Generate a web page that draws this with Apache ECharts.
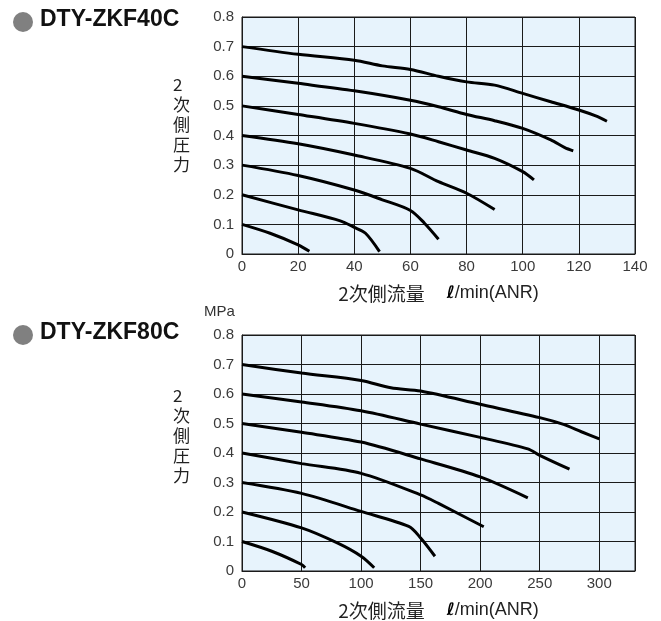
<!DOCTYPE html>
<html><head><meta charset="utf-8">
<script src="https://cdn.jsdelivr.net/npm/echarts@6/dist/echarts.min.js"></script>
<style>html,body{margin:0;padding:0;background:#fff}#c{width:661px;height:621px}</style>
</head><body><div id="c"></div>
<script>
// Top chart: DTY-ZKF40C  (flow l/min, pressure MPa)
const titleTop = 'DTY-ZKF40C';
const titleBottom = 'DTY-ZKF80C';
const xTicksTop = [0, 20, 40, 60, 80, 100, 120, 140];
const xTicksBottom = [0, 50, 100, 150, 200, 250, 300];
const yTicks = [0, 0.1, 0.2, 0.3, 0.4, 0.5, 0.6, 0.7, 0.8];

const top07 = [[0,0.70],[20,0.674],[40,0.654],[50,0.635],[60,0.623],[70,0.600],[80,0.581],[90,0.570],[100,0.542],[110,0.514],[120,0.486],[126,0.466],[130,0.448]];
const top06 = [[0,0.60],[20,0.576],[40,0.551],[60,0.519],[70,0.497],[80,0.471],[90,0.450],[100,0.424],[110,0.385],[115,0.359],[118,0.348]];
const top05 = [[0,0.50],[20,0.471],[40,0.441],[60,0.405],[70,0.379],[80,0.351],[90,0.323],[100,0.278],[104,0.250]];
const top04 = [[0,0.40],[20,0.372],[40,0.334],[60,0.289],[70,0.244],[80,0.205],[90,0.150]];
const top03 = [[0,0.30],[20,0.265],[40,0.216],[50,0.183],[60,0.147],[65,0.104],[70,0.050]];
const top02 = [[0,0.20],[20,0.149],[35,0.112],[40,0.090],[44,0.070],[49,0.008]];
const top01 = [[0,0.10],[10,0.070],[20,0.031],[24,0.009]];

const bot07 = [[0,0.70],[50,0.671],[100,0.646],[125,0.621],[150,0.610],[200,0.565],[250,0.520],[270,0.497],[285,0.472],[300,0.448]];
const bot06 = [[0,0.60],[50,0.573],[100,0.543],[150,0.498],[200,0.453],[240,0.414],[250,0.392],[275,0.345]];
const bot05 = [[0,0.50],[50,0.470],[100,0.437],[150,0.380],[200,0.319],[240,0.248]];
const bot04 = [[0,0.40],[50,0.364],[100,0.331],[150,0.258],[165,0.229],[203,0.150]];
const bot03 = [[0,0.30],[50,0.263],[100,0.202],[140,0.151],[150,0.112],[162,0.050]];
const bot02 = [[0,0.20],[50,0.146],[80,0.095],[100,0.050],[111,0.011]];
const bot01 = [[0,0.10],[25,0.067],[50,0.022],[53,0.011]];

const topCurves = [top07, top06, top05, top04, top03, top02, top01];
const botCurves = [bot07, bot06, bot05, bot04, bot03, bot02, bot01];

const numFont = "'Liberation Sans', Arial, sans-serif";
const jpFont = "'Noto Sans CJK JP', sans-serif";
const gridColor = '#1a1a1a';

function xAxisFor(idx, ticks, max) {
  return {
    type: 'value', gridIndex: idx, min: 0, max: max, interval: ticks[1] - ticks[0],
    axisLine: { show: true, lineStyle: { color: gridColor, width: 1 } },
    axisTick: { show: false },
    splitLine: { show: true, lineStyle: { color: gridColor, width: 1 } },
    axisLabel: { show: true, margin: 5, fontSize: 15, color: '#3a3a3a', fontFamily: numFont,
      showMaxLabel: ticks[ticks.length - 1] === max,
      formatter: v => ticks.indexOf(v) >= 0 ? String(v) : '' },
    name: '{a|2次側流量}{s| }{l|ℓ}{b|/min(ANR)}',
    nameLocation: 'middle', nameGap: 30,
    nameTextStyle: { rich: {
      a: { fontFamily: jpFont, fontSize: 19, color: '#222' },
      s: { fontSize: 19, width: 22 },
      l: { fontFamily: "'DejaVu Sans', sans-serif", fontStyle: 'italic', fontWeight: 'bold', fontSize: 17, color: '#000' },
      b: { fontFamily: numFont, fontSize: 18, color: '#222' }
    } }
  };
}
function yAxisFor(idx) {
  return {
    type: 'value', gridIndex: idx, min: 0, max: 0.8, interval: 0.1,
    axisLine: { show: true, lineStyle: { color: gridColor, width: 1 } },
    axisTick: { show: false },
    splitLine: { show: true, lineStyle: { color: gridColor, width: 1 } },
    axisLabel: { margin: 8, fontSize: 15, color: '#3a3a3a', fontFamily: numFont,
      formatter: v => yTicks.some(t => Math.abs(t - v) < 1e-9) ? (v === 0 ? '0' : v.toFixed(1)) : '' }
  };
}
function seriesFor(curves, idx) {
  return curves.map(d => ({
    type: 'line', xAxisIndex: idx, yAxisIndex: idx, data: d, smooth: 0.3,
    symbol: 'none', lineStyle: { color: '#000', width: 3 }, silent: true
  }));
}

const chart = echarts.init(document.getElementById('c'));
chart.setOption({
  animation: false,
  backgroundColor: '#fff',
  grid: [
    { left: 242, top: 17, width: 393, height: 237, show: true, backgroundColor: '#e7f3fc', borderColor: gridColor, borderWidth: 1 },
    { left: 242, top: 335, width: 393, height: 238, show: true, backgroundColor: '#e7f3fc', borderColor: gridColor, borderWidth: 1 }
  ],
  xAxis: [xAxisFor(0, xTicksTop, 140), xAxisFor(1, xTicksBottom, 330)],
  yAxis: [yAxisFor(0), yAxisFor(1)],
  series: seriesFor(topCurves, 0).concat(seriesFor(botCurves, 1)),
  graphic: [
    { type: 'circle', shape: { cx: 23, cy: 22, r: 10 }, style: { fill: '#808080' } },
    { type: 'text', left: 40, top: 8, style: { text: titleTop, font: "bold 23px 'Liberation Sans', Arial, sans-serif", fill: '#111' } },
    { type: 'circle', shape: { cx: 23, cy: 335, r: 10 }, style: { fill: '#808080' } },
    { type: 'text', left: 40, top: 321, style: { text: titleBottom, font: "bold 23px 'Liberation Sans', Arial, sans-serif", fill: '#111' } },
    { type: 'text', left: 173, top: 75, style: { text: '2\n次\n側\n圧\n力', font: "17px 'Noto Sans CJK JP', sans-serif", lineHeight: 20, align: 'center', fill: '#222' } },
    { type: 'text', left: 173, top: 386, style: { text: '2\n次\n側\n圧\n力', font: "17px 'Noto Sans CJK JP', sans-serif", lineHeight: 20, align: 'center', fill: '#222' } },
    { type: 'text', left: 204, top: 304, style: { text: 'MPa', font: "15px 'Liberation Sans', Arial, sans-serif", fill: '#333' } }
  ]
});
</script>
</body></html>
